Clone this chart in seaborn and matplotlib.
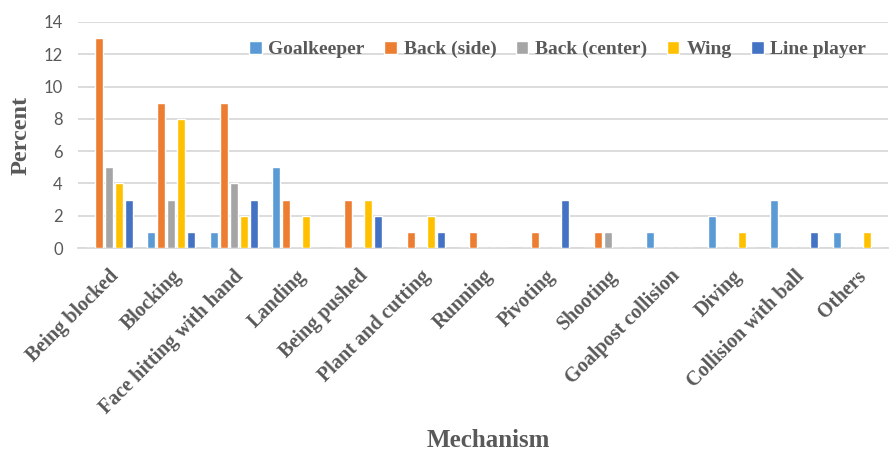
import matplotlib
matplotlib.use("Agg")
import matplotlib.pyplot as plt
import seaborn as sns
import pandas as pd

categories = ["Being blocked", "Blocking", "Face hitting with hand", "Landing",
              "Being pushed", "Plant and cutting", "Running", "Pivoting",
              "Shooting", "Goalpost collision", "Diving", "Collision with ball", "Others"]
goalkeeper = [0, 1, 1, 5, 0, 0, 0, 0, 0, 1, 2, 3, 1]
back_side = [13, 9, 9, 3, 3, 1, 1, 1, 1, 0, 0, 0, 0]
back_center = [5, 3, 4, 0, 0, 0, 0, 0, 1, 0, 0, 0, 0]
wing = [4, 8, 2, 2, 3, 2, 0, 0, 0, 0, 1, 0, 1]
line_player = [3, 1, 3, 0, 2, 1, 0, 3, 0, 0, 0, 1, 0]
series_names = ["Goalkeeper", "Back (side)", "Back (center)", "Wing", "Line player"]
colors = ["#5B9BD5", "#ED7D31", "#A5A5A5", "#FFC000", "#4472C4"]
y_ticks = [0, 2, 4, 6, 8, 10, 12, 14]

df = pd.DataFrame({"Mechanism": categories,
                   series_names[0]: goalkeeper,
                   series_names[1]: back_side,
                   series_names[2]: back_center,
                   series_names[3]: wing,
                   series_names[4]: line_player})
long = df.melt(id_vars="Mechanism", var_name="Position", value_name="Percent")

sns.set_style("white")
grey = "#595959"
serif = "Liberation Serif"

fig = plt.figure(figsize=(8.9, 4.53), dpi=100)
ax = fig.add_axes([0.0876, 0.4525, 0.91, 0.499])

sns.barplot(data=long, x="Mechanism", y="Percent", hue="Position",
            hue_order=series_names, palette=colors, order=categories,
            width=0.8, gap=0.2, saturation=1, ax=ax, zorder=3)

ax.set_xlim(-0.5, len(categories) - 0.5)
ax.set_ylim(0, 14)
ax.set_yticks(y_ticks)
ax.yaxis.grid(True, color="#D9D9D9", linewidth=1.3, zorder=0)
ax.set_axisbelow(True)
for s in ["top", "right", "left"]:
    ax.spines[s].set_visible(False)
ax.spines["bottom"].set_color("#D9D9D9")
ax.spines["bottom"].set_linewidth(1.3)
ax.tick_params(axis="both", length=0)
ax.tick_params(axis="y", labelsize=12, labelcolor=grey, pad=11)
for lab in ax.get_yticklabels():
    lab.set_fontfamily("Lato")
ax.set_xticks(range(len(categories)))
ax.set_xticklabels(categories, rotation=45, ha="right", rotation_mode="anchor",
                   fontfamily=serif, fontweight="bold", fontsize=14.5, color=grey)
ax.tick_params(axis="x", pad=13)

ax.set_xlabel("Mechanism", fontfamily=serif, fontweight="bold", fontsize=18,
              color=grey)
ax.xaxis.set_label_coords(0.507, -0.80)
ax.set_ylabel("Percent", fontfamily=serif, fontweight="bold", fontsize=17.5,
              color=grey)
ax.yaxis.set_label_coords(-0.057, 0.5)

leg = ax.legend(ncol=5, loc="upper right", bbox_to_anchor=(0.995, 0.995),
                frameon=False, handlelength=0.65, handleheight=0.65,
                handletextpad=0.35, columnspacing=1.0,
                prop={"family": serif, "weight": "bold", "size": 14})
for t in leg.get_texts():
    t.set_color(grey)

fig.savefig("out.png", dpi=100)
